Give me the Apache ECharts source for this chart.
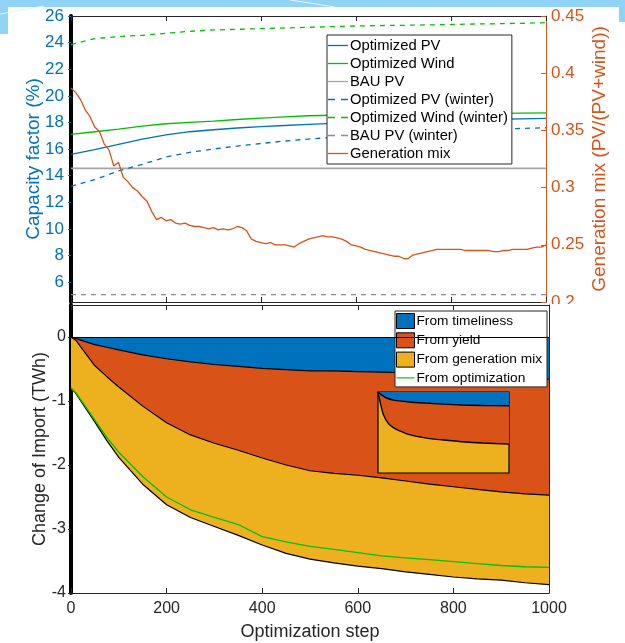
<!DOCTYPE html>
<html>
<head>
<meta charset="utf-8">
<script src="https://cdn.jsdelivr.net/npm/echarts@6/dist/echarts.min.js"></script>
<style>
  html, body { margin: 0; padding: 0; background: #fff; }
  #chart { width: 625px; height: 643px; }
</style>
</head>
<body>
<div id="chart"></div>
<script>
// ---- top panel: capacity factor (%) ----
const cfSteps = [0, 50, 100, 150, 200, 250, 300, 350, 400, 450, 500, 550, 600, 650, 700, 750, 800, 850, 900, 950, 1000];
const optPV = [15.6, 15.95, 16.35, 16.75, 17.07, 17.3, 17.45, 17.58, 17.68, 17.77, 17.86, 17.93, 17.99, 18.04, 18.09, 18.13, 18.17, 18.21, 18.24, 18.27, 18.3];
const optWind = [17.1, 17.3, 17.5, 17.72, 17.9, 18.0, 18.1, 18.22, 18.33, 18.42, 18.5, 18.54, 18.57, 18.6, 18.62, 18.64, 18.65, 18.67, 18.68, 18.7, 18.72];
const optPVWinter = [13.2, 13.7, 14.35, 14.85, 15.4, 15.75, 16.0, 16.22, 16.42, 16.6, 16.75, 16.87, 16.97, 17.07, 17.16, 17.25, 17.33, 17.41, 17.48, 17.55, 17.6];
const optWindWinter = [23.85, 24.3, 24.45, 24.55, 24.7, 24.85, 24.95, 25.0, 25.05, 25.1, 25.15, 25.2, 25.25, 25.28, 25.3, 25.33, 25.36, 25.4, 25.42, 25.45, 25.5];
const bauSteps = [0, 1000];
const bauPV = [14.55, 14.55];
const bauPVWinter = [5.05, 5.05];

// generation mix PV/(PV+wind), right axis
const mixSteps = [0, 10, 20, 30, 40, 50, 60, 70, 80, 90, 100, 110, 120, 130, 140, 150, 160, 170, 180, 190,
  200, 210, 220, 230, 240, 250, 260, 270, 280, 290, 300, 310, 320, 330, 340, 350, 360, 370, 380, 390,
  400, 410, 420, 430, 440, 450, 460, 470, 480, 490, 500, 510, 520, 530, 540, 550, 560, 570, 580, 590,
  600, 610, 620, 630, 640, 650, 660, 670, 680, 690, 700, 710, 720, 730, 740, 750, 760, 770, 780, 790,
  800, 810, 820, 830, 840, 850, 860, 870, 880, 890, 900, 910, 920, 930, 940, 950, 960, 970, 980, 990, 1000];
const genMix = [0.387, 0.383, 0.377, 0.368, 0.362, 0.353, 0.349, 0.338, 0.333, 0.319, 0.322, 0.309, 0.305, 0.300, 0.297, 0.292, 0.288, 0.279, 0.272, 0.274,
  0.271, 0.272, 0.269, 0.268, 0.269, 0.267, 0.266, 0.266, 0.265, 0.264, 0.265, 0.263, 0.264, 0.263, 0.264, 0.266, 0.265, 0.262, 0.255, 0.253,
  0.252, 0.251, 0.252, 0.250, 0.250, 0.250, 0.249, 0.248, 0.251, 0.253, 0.255, 0.256, 0.257, 0.258, 0.257, 0.257, 0.256, 0.255, 0.253, 0.250,
  0.249, 0.248, 0.246, 0.245, 0.244, 0.243, 0.242, 0.241, 0.240, 0.240, 0.238, 0.238, 0.241, 0.242, 0.243, 0.244, 0.245, 0.246, 0.246, 0.246,
  0.246, 0.246, 0.246, 0.245, 0.245, 0.245, 0.245, 0.245, 0.245, 0.244, 0.244, 0.245, 0.245, 0.246, 0.246, 0.246, 0.246, 0.247, 0.248, 0.248, 0.250];

// ---- bottom panel: change of import (TWh), cumulative boundaries ----
const impSteps = [0, 10, 25, 50, 75, 100, 150, 200, 250, 300, 350, 400, 450, 500, 550, 600, 650, 700, 750, 800, 850, 900, 950, 1000];
const fromTimeliness = [0, -0.02, -0.06, -0.12, -0.16, -0.2, -0.28, -0.34, -0.39, -0.43, -0.46, -0.49, -0.51, -0.53, -0.53, -0.54, -0.55, -0.56, -0.58, -0.59, -0.61, -0.62, -0.64, -0.66];
const plusYield = [0, -0.05, -0.2, -0.45, -0.62, -0.78, -1.08, -1.34, -1.53, -1.66, -1.77, -1.89, -2.0, -2.09, -2.13, -2.16, -2.2, -2.25, -2.3, -2.34, -2.38, -2.42, -2.45, -2.47];
const plusGenMix = [-0.8, -0.88, -1.05, -1.33, -1.62, -1.88, -2.3, -2.62, -2.82, -2.96, -3.1, -3.25, -3.38, -3.47, -3.53, -3.58, -3.62, -3.67, -3.71, -3.75, -3.78, -3.8, -3.84, -3.87];
const fromOptimization = [-0.8, -0.87, -1.03, -1.3, -1.57, -1.8, -2.18, -2.5, -2.7, -2.82, -2.93, -3.12, -3.2, -3.27, -3.32, -3.37, -3.42, -3.45, -3.48, -3.51, -3.54, -3.57, -3.59, -3.6];

// inset
const insetSteps = [0, 100, 200, 400, 600, 800, 1200, 1800, 2500, 3200, 4000, 5000];
const insetTimeliness = [0, -0.08, -0.15, -0.25, -0.30, -0.33, -0.37, -0.41, -0.45, -0.48, -0.50, -0.51];
const insetYield = [0, -0.45, -0.82, -1.17, -1.33, -1.43, -1.58, -1.70, -1.78, -1.84, -1.89, -1.93];

const cfTicks = [6, 8, 10, 12, 14, 16, 18, 20, 22, 24, 26];
const mixTicks = [0.2, 0.25, 0.3, 0.35, 0.4, 0.45];
const impTicks = [-4, -3, -2, -1, 0];

const FONT = "'Liberation Sans', Arial, Helvetica, sans-serif";
const BLUE = "#0072BD", ORANGE = "#D95319", YELLOW = "#EDB120", GREEN = "#00C000";
const AXIS = "#262626";

const pairs = (xs, ys) => xs.map((x, i) => [x, ys[i]]);

const ICON_SOLID = "path://M0,0H20V1.3H0Z";
const ICON_DASH = "path://M0,0H7V1.3H0ZM13,0H20V1.3H13Z";

const myChart = echarts.init(document.getElementById("chart"));

const frameX = (grid, pos, extra) => Object.assign({
  type: "value", gridIndex: grid, position: pos, min: 0, max: 1000, interval: 200,
  axisLine: { onZero: false, lineStyle: { color: AXIS, width: 1 } },
  axisTick: { inside: true, length: 5, lineStyle: { color: AXIS } },
  axisLabel: { show: false },
  splitLine: { show: false },
}, extra || {});

const line = (name, xs, ys, color, opts) => Object.assign({
  name, type: "line", xAxisIndex: 0, yAxisIndex: 0, showSymbol: false, symbol: "none",
  data: pairs(xs, ys),
  itemStyle: { color },
  lineStyle: { color, width: 1.3 },
  z: 2,
}, opts || {});

const area = (name, ys, color, z) => ({
  name, type: "line", xAxisIndex: 2, yAxisIndex: 2, showSymbol: false, symbol: "none",
  data: pairs(impSteps, ys),
  itemStyle: { color, borderColor: "#000", borderWidth: 1 },
  lineStyle: { color: "#000", width: 1.2 },
  areaStyle: { color, opacity: 1 },
  z,
});

const option = {
  backgroundColor: "#fff",
  animation: false,
  textStyle: { fontFamily: FONT },
  grid: [
    { left: 71, top: 16, width: 475, height: 286 },
    { left: 71, top: 305, width: 478, height: 288 },
    { left: 378, top: 392, width: 131, height: 81, show: true, backgroundColor: YELLOW, borderColor: "#000", borderWidth: 1.2, z: 3 },
  ],
  xAxis: [
    frameX(0, "bottom"),
    frameX(0, "top"),
    frameX(1, "bottom", {
      axisLabel: { show: true, color: AXIS, fontSize: 16, margin: 8, fontFamily: FONT, formatter: (v) => String(v) },
      name: "Optimization step", nameLocation: "middle", nameGap: 30, nameMoveOverlap: false,
      nameTextStyle: { color: AXIS, fontSize: 18, fontFamily: FONT },
    }),
    frameX(1, "top"),
    { type: "value", gridIndex: 2, min: 0, max: 5000, show: false },
  ],
  yAxis: [
    {
      type: "value", gridIndex: 0, position: "left", min: 4.5, max: 26,
      axisLine: { onZero: false, lineStyle: { color: "#000", width: 4 } },
      axisTick: { inside: false, length: 3, customValues: cfTicks, lineStyle: { color: BLUE } },
      axisLabel: { customValues: cfTicks, color: BLUE, fontSize: 17, margin: 7, fontFamily: FONT },
      splitLine: { show: false },
      name: "Capacity factor (%)", nameLocation: "middle", nameGap: 28, nameMoveOverlap: false,
      nameTextStyle: { color: BLUE, fontSize: 19, fontFamily: FONT },
    },
    {
      type: "value", gridIndex: 0, position: "right", min: 0.2, max: 0.45,
      axisLine: { onZero: false, lineStyle: { color: ORANGE, width: 1 } },
      axisTick: { inside: true, length: 5, customValues: mixTicks, lineStyle: { color: ORANGE } },
      axisLabel: { customValues: mixTicks, color: ORANGE, fontSize: 17, margin: 5, fontFamily: FONT },
      splitLine: { show: false },
      name: "Generation mix (PV/(PV+wind))", nameLocation: "middle", nameGap: 44, nameRotate: 90, nameMoveOverlap: false,
      nameTextStyle: { color: ORANGE, fontSize: 19, fontFamily: FONT },
    },
    {
      type: "value", gridIndex: 1, position: "left", min: -4, max: 0.5,
      axisLine: { onZero: false, lineStyle: { color: "#000", width: 4 } },
      axisTick: { inside: false, length: 3, customValues: impTicks, lineStyle: { color: AXIS } },
      axisLabel: { customValues: impTicks, color: AXIS, fontSize: 16, margin: 5, fontFamily: FONT },
      splitLine: { show: false },
      name: "Change of Import (TWh)", nameLocation: "middle", nameGap: 22, nameMoveOverlap: false,
      nameTextStyle: { color: AXIS, fontSize: 18, fontFamily: FONT },
    },
    {
      type: "value", gridIndex: 1, position: "right", min: -4, max: 0.5,
      axisLine: { onZero: false, lineStyle: { color: AXIS, width: 1 } },
      axisTick: { inside: true, length: 5, customValues: impTicks, lineStyle: { color: AXIS } },
      axisLabel: { show: false },
      splitLine: { show: false },
    },
    { type: "value", gridIndex: 2, min: -3, max: 0, show: false },
  ],
  legend: [
    {
      orient: "vertical", left: 327, top: 35, itemWidth: 20, itemHeight: 14, itemGap: 3,
      padding: [3, 4, 3, 1], backgroundColor: "#fff", borderColor: AXIS, borderWidth: 1,
      textStyle: { color: "#000", fontSize: 14.8, fontFamily: FONT, padding: [0, 0, 0, -3] },
      itemStyle: { borderWidth: 0 },
      data: [
        { name: "Optimized PV", icon: ICON_SOLID },
        { name: "Optimized Wind", icon: ICON_SOLID },
        { name: "BAU PV", icon: ICON_SOLID },
        { name: "Optimized PV (winter)", icon: ICON_DASH },
        { name: "Optimized Wind (winter)", icon: ICON_DASH },
        { name: "BAU PV (winter)", icon: ICON_DASH },
        { name: "Generation mix", icon: ICON_SOLID },
      ],
    },
    {
      orient: "vertical", left: 395, top: 311, itemWidth: 18, itemHeight: 15, itemGap: 3.3,
      padding: [2, 5, 2, 1], backgroundColor: "#fff", borderColor: AXIS, borderWidth: 1,
      textStyle: { color: "#000", fontSize: 13.7, fontFamily: FONT, padding: [0, 0, 0, -3] },
      data: [
        { name: "From timeliness", icon: "rect", itemStyle: { borderColor: "#000", borderWidth: 1 } },
        { name: "From yield", icon: "rect", itemStyle: { borderColor: "#000", borderWidth: 1 } },
        { name: "From generation mix", icon: "rect", itemStyle: { borderColor: "#000", borderWidth: 1 } },
        { name: "From optimization", icon: ICON_SOLID, itemStyle: { borderWidth: 0 } },
      ],
    },
  ],
  series: [
    line("Optimized PV", cfSteps, optPV, BLUE),
    line("Optimized Wind", cfSteps, optWind, GREEN),
    line("BAU PV", bauSteps, bauPV, "#a6a6a6", { lineStyle: { color: "#a6a6a6", width: 1.8 } }),
    line("Optimized PV (winter)", cfSteps, optPVWinter, BLUE, { lineStyle: { color: BLUE, width: 1.3, type: [5, 5] } }),
    line("Optimized Wind (winter)", cfSteps, optWindWinter, GREEN, { lineStyle: { color: GREEN, width: 1.3, type: [5, 5] } }),
    line("BAU PV (winter)", bauSteps, bauPVWinter, "#8c8c8c", { lineStyle: { color: "#8c8c8c", width: 1.2, type: [5, 5] } }),
    line("Generation mix", mixSteps, genMix, ORANGE, { yAxisIndex: 1, lineStyle: { color: ORANGE, width: 1.3 } }),

    area("From generation mix", plusGenMix, YELLOW, 2),
    area("From yield", plusYield, ORANGE, 2),
    Object.assign(area("From timeliness", fromTimeliness, BLUE, 2), {
      markLine: {
        silent: true, symbol: "none", label: { show: false },
        lineStyle: { color: "#000", width: 1.2, type: "solid" },
        data: [{ yAxis: 0 }],
      },
    }),
    {
      name: "From optimization", type: "line", xAxisIndex: 2, yAxisIndex: 2, showSymbol: false, symbol: "none",
      data: pairs(impSteps, fromOptimization),
      itemStyle: { color: GREEN }, lineStyle: { color: GREEN, width: 1.3 }, z: 2,
    },

    {
      name: "inset yield", type: "line", xAxisIndex: 4, yAxisIndex: 4, showSymbol: false, symbol: "none",
      data: pairs(insetSteps, insetYield), smooth: 0.3,
      lineStyle: { color: "#000", width: 1.4 }, areaStyle: { color: ORANGE, opacity: 1 }, z: 4,
    },
    {
      name: "inset timeliness", type: "line", xAxisIndex: 4, yAxisIndex: 4, showSymbol: false, symbol: "none",
      data: pairs(insetSteps, insetTimeliness), smooth: 0.3,
      lineStyle: { color: "#000", width: 1.4 }, areaStyle: { color: BLUE, opacity: 1 }, z: 4,
    },
  ],
  graphic: [
    { type: "rect", silent: true, z: 0, shape: { x: 0, y: 0, width: 625, height: 7 }, style: { fill: "#8fd3f5" } },
    { type: "rect", silent: true, z: 0, shape: { x: 0, y: 0, width: 8, height: 34 }, style: { fill: "#8fd3f5" } },
    { type: "rect", silent: true, z: 0, shape: { x: 619, y: 0, width: 6, height: 22 }, style: { fill: "#8fd3f5" } },
    { type: "line", silent: true, z: 1, shape: { x1: 0, y1: 14, x2: 44, y2: 6 }, style: { stroke: "#e4f5fd", lineWidth: 1.2 } },
    { type: "line", silent: true, z: 1, shape: { x1: 290, y1: 0, x2: 335, y2: 7 }, style: { stroke: "#e4f5fd", lineWidth: 1.2 } },
    { type: "rect", silent: true, z: 100, shape: { x: 551, y: 304, width: 45, height: 14 }, style: { fill: "#fff" } },
  ],
};

myChart.setOption(option);
</script>
</body>
</html>
